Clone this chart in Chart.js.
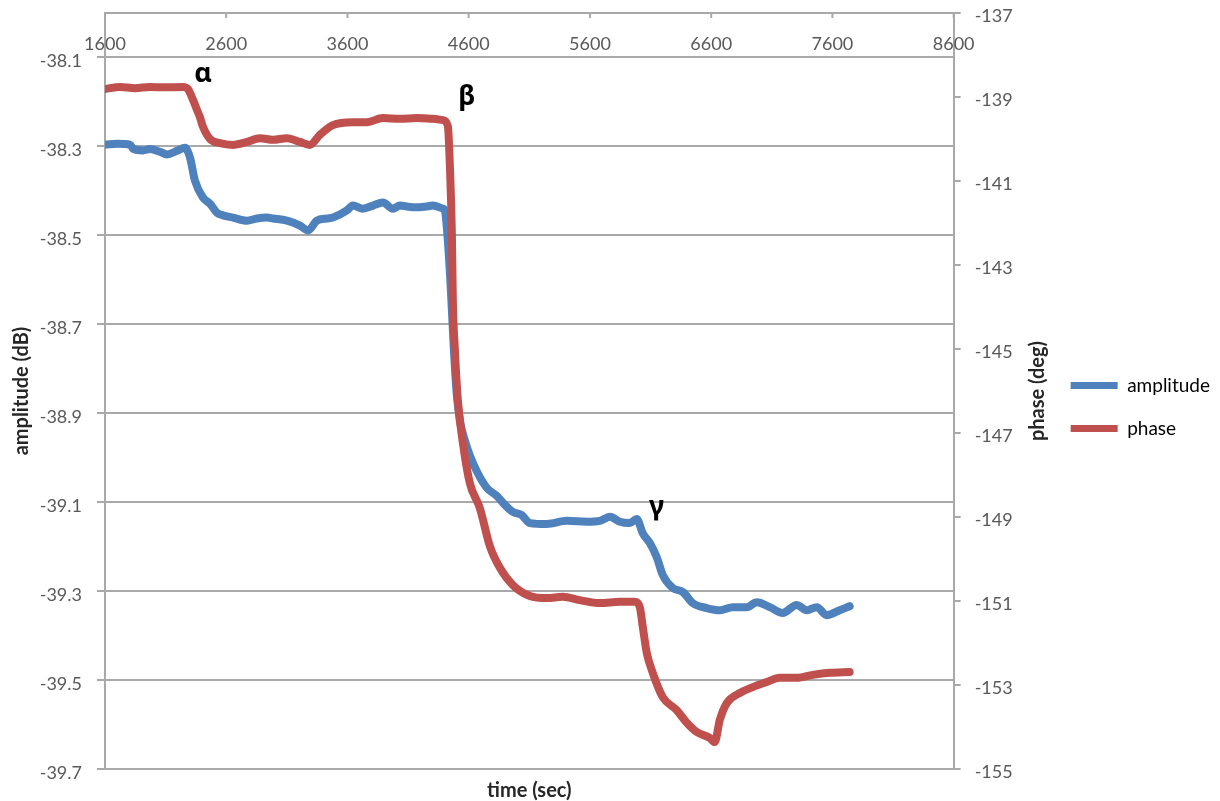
<!DOCTYPE html>
<html lang="en">
<head>
<meta charset="UTF-8">
<title>amplitude / phase vs time</title>
<script src="https://cdn.jsdelivr.net/npm/chart.js"></script>
<style>
    body { margin: 0; background: #ffffff; }
    #wrap { width: 1220px; height: 801px; position: relative; }
</style>
</head>
<body>
<div id="wrap"><canvas id="chart"></canvas></div>
<script>
// tick labels
var timeTicks  = [1600, 2600, 3600, 4600, 5600, 6600, 7600, 8600];
var ampTicks   = [-39.7, -39.5, -39.3, -39.1, -38.9, -38.7, -38.5, -38.3, -38.1];
var phaseTicks = [-155, -153, -151, -149, -147, -145, -143, -141, -139, -137];

// amplitude (dB), left axis
var ampTime = [1600, 1700, 1806, 1831, 1913, 1971, 2053, 2111, 2194, 2260, 2301, 2342, 2408, 2466,
    2523, 2573, 2655, 2771, 2853, 2936, 2985, 3101, 3208, 3274, 3348, 3431, 3480, 3595, 3645, 3727,
    3810, 3892, 3975, 4032, 4140, 4255, 4304, 4387, 4403, 4428, 4453, 4478, 4502, 4535, 4568, 4609,
    4675, 4750, 4832, 4898, 4964, 5038, 5104, 5244, 5409, 5574, 5681, 5764, 5846, 5929, 5986, 6036,
    6094, 6151, 6201, 6283, 6366, 6448, 6563, 6671, 6778, 6893, 6976, 7083, 7190, 7306, 7388, 7470,
    7553, 7660, 7742];
var ampValues = [-38.296, -38.294, -38.296, -38.305, -38.309, -38.306, -38.312, -38.318, -38.310, -38.303,
    -38.325, -38.377, -38.415, -38.429, -38.449, -38.455, -38.460, -38.467, -38.462, -38.460, -38.462,
    -38.467, -38.478, -38.489, -38.467, -38.462, -38.460, -38.444, -38.433, -38.440, -38.433, -38.426,
    -38.440, -38.433, -38.437, -38.435, -38.433, -38.440, -38.444, -38.512, -38.624, -38.759, -38.860,
    -38.927, -38.961, -38.995, -39.035, -39.068, -39.086, -39.106, -39.122, -39.129, -39.147, -39.149,
    -39.142, -39.144, -39.142, -39.133, -39.144, -39.147, -39.138, -39.170, -39.192, -39.224, -39.264,
    -39.293, -39.302, -39.327, -39.338, -39.343, -39.336, -39.336, -39.325, -39.336, -39.349, -39.331,
    -39.343, -39.336, -39.354, -39.343, -39.334];

// phase (deg), right axis
var phaseTime = [1600, 1724, 1847, 1971, 2095, 2243, 2284, 2326, 2359, 2383, 2408, 2466, 2548, 2655,
    2771, 2878, 2985, 3101, 3208, 3290, 3373, 3480, 3645, 3760, 3892, 4032, 4172, 4304, 4387, 4428,
    4445, 4461, 4469, 4486, 4510, 4552, 4609, 4692, 4774, 4857, 4964, 5104, 5244, 5376, 5516, 5681,
    5846, 5970, 6011, 6036, 6069, 6118, 6201, 6316, 6399, 6481, 6588, 6629, 6671, 6729, 6836, 6943,
    7058, 7165, 7306, 7438, 7578, 7742];
var phaseValues = [-138.81, -138.76, -138.79, -138.76, -138.77, -138.76, -138.81, -139.07, -139.31, -139.48,
    -139.71, -140.00, -140.10, -140.14, -140.07, -139.98, -140.02, -139.98, -140.07, -140.14, -139.90,
    -139.67, -139.60, -139.60, -139.50, -139.52, -139.50, -139.52, -139.55, -139.69, -140.67, -142.24,
    -143.83, -145.02, -146.21, -147.24, -148.19, -148.79, -149.69, -150.21, -150.62, -150.88, -150.93,
    -150.90, -150.98, -151.05, -151.02, -151.02, -151.14, -151.62, -152.24, -152.71, -153.29, -153.60,
    -153.90, -154.12, -154.26, -154.36, -153.83, -153.43, -153.19, -153.05, -152.93, -152.83, -152.83,
    -152.76, -152.71, -152.69];

// event markers (time, amplitude value where the letter sits)
var markers = [
    { text: 'α', t: 2410, amp: -38.137 },
    { text: 'β', t: 4585, amp: -38.190 },
    { text: 'γ', t: 6150, amp: -39.111 }
];

var gridGray = '#a9a9a9';
var labelGray = '#595959';

function toPoints(xs, ys) {
    return xs.map(function (x, i) { return { x: x, y: ys[i] }; });
}

// y axes: keep the frame where it is, don't reserve room for half labels
function noEndPadding(s) {
    s.paddingTop = 0;
    s.paddingBottom = 0;
}

// draws what chart.js can't: x labels inside the top frame, right title read upwards, α β γ
var overlay = {
    id: 'overlay',
    afterDraw: function (chart) {
        var ctx = chart.ctx, area = chart.chartArea, sx = chart.scales.x, sy = chart.scales.y;
        ctx.save();
        ctx.strokeStyle = gridGray;
        ctx.lineWidth = 2;
        ctx.fillStyle = labelGray;
        ctx.font = '18px Lato';
        ctx.textAlign = 'center';
        ctx.textBaseline = 'middle';
        timeTicks.forEach(function (t) {
            var x = sx.getPixelForValue(t);
            ctx.beginPath();
            ctx.moveTo(x, area.top);
            ctx.lineTo(x, area.top + 5);
            ctx.stroke();
            ctx.fillText(String(t), x, area.top + 31);
        });

        ctx.save();
        ctx.translate(area.right + 84, (area.top + area.bottom) / 2);
        ctx.rotate(-Math.PI / 2);
        ctx.font = 'bold 20px Lato';
        ctx.fillStyle = '#262626';
        ctx.fillText('phase (deg)', 0, 0);
        ctx.restore();

        ctx.font = 'bold 27px "Noto Sans"';
        ctx.fillStyle = '#000000';
        markers.forEach(function (m) {
            ctx.fillText(m.text, sx.getPixelForValue(m.t), sy.getPixelForValue(m.amp));
        });
        ctx.restore();
    }
};

new Chart(document.getElementById('chart'), {
    type: 'line',
    data: {
        datasets: [{
            label: 'amplitude',
            data: toPoints(ampTime, ampValues),
            yAxisID: 'y',
            borderColor: '#4f81bd',
            backgroundColor: '#4f81bd',
            borderWidth: 8,
            pointRadius: 0,
            cubicInterpolationMode: 'monotone',
            borderCapStyle: 'round',
            borderJoinStyle: 'round',
            order: 1
        }, {
            label: 'phase',
            data: toPoints(phaseTime, phaseValues),
            yAxisID: 'y1',
            borderColor: '#c0504d',
            backgroundColor: '#c0504d',
            borderWidth: 8,
            pointRadius: 0,
            cubicInterpolationMode: 'monotone',
            borderCapStyle: 'round',
            borderJoinStyle: 'round',
            order: 0
        }]
    },
    options: {
        responsive: true,
        maintainAspectRatio: false,
        animation: false,
        layout: { padding: { top: 13, left: 0, right: 0, bottom: 0 } },
        plugins: {
            tooltip: { enabled: false },
            legend: {
                position: 'right',
                labels: {
                    boxWidth: 47,
                    boxHeight: 7,
                    padding: 24,
                    useBorderRadius: true,
                    borderRadius: 3,
                    color: '#404040',
                    font: { family: 'Lato', size: 19 },
                    sort: function (a, b) { return a.datasetIndex - b.datasetIndex; },
                    generateLabels: function (chart) {
                        return chart.data.datasets.map(function (ds, i) {
                            return { text: ds.label, fillStyle: ds.borderColor, strokeStyle: ds.borderColor,
                                     lineWidth: 0, datasetIndex: i, hidden: false };
                        });
                    }
                }
            }
        },
        scales: {
            x: {
                type: 'linear',
                position: 'top',
                min: 1600,
                max: 8600,
                afterBuildTicks: function (s) { s.ticks = timeTicks.map(function (v) { return { value: v }; }); },
                afterFit: function (s) { s.height = 0; },
                ticks: { display: false },
                grid: { display: false },
                border: { display: true, color: gridGray, width: 2 }
            },
            x2: {
                type: 'linear',
                position: 'bottom',
                min: 1600,
                max: 8600,
                afterFit: function (s) { s.height = 32; },
                ticks: { display: false },
                grid: { display: false },
                border: { display: false },
                title: {
                    display: true,
                    text: 'time (sec)',
                    color: '#262626',
                    padding: { top: 0, bottom: 0 },
                    font: { family: 'Lato', size: 20, weight: 'bold', lineHeight: 1 }
                }
            },
            y: {
                type: 'linear',
                position: 'left',
                min: -39.7,
                max: -38.0,
                afterBuildTicks: function (s) { s.ticks = ampTicks.map(function (v) { return { value: v }; }); },
                afterFit: function (s) { s.width = 105; noEndPadding(s); },
                ticks: {
                    color: labelGray,
                    font: { family: 'Lato', size: 18 },
                    padding: 15,
                    labelOffset: 4,
                    callback: function (v) { return v.toFixed(1); }
                },
                grid: { color: gridGray, lineWidth: 2, tickLength: 8 },
                border: { display: true, color: gridGray, width: 2 },
                title: {
                    display: true,
                    text: 'amplitude (dB)',
                    color: '#262626',
                    padding: { top: 10, bottom: 0 },
                    font: { family: 'Lato', size: 20, weight: 'bold' }
                }
            },
            y1: {
                type: 'linear',
                position: 'right',
                min: -155,
                max: -137,
                afterBuildTicks: function (s) { s.ticks = phaseTicks.map(function (v) { return { value: v }; }); },
                afterFit: function (s) { s.width = 93; noEndPadding(s); },
                ticks: {
                    color: labelGray,
                    font: { family: 'Lato', size: 18 },
                    padding: 14,
                    labelOffset: 3,
                    callback: function (v) { return String(v); }
                },
                grid: { drawOnChartArea: false, color: gridGray, lineWidth: 2, tickLength: 7 },
                border: { display: true, color: gridGray, width: 2 }
            }
        }
    },
    plugins: [overlay]
});
</script>
</body>
</html>
